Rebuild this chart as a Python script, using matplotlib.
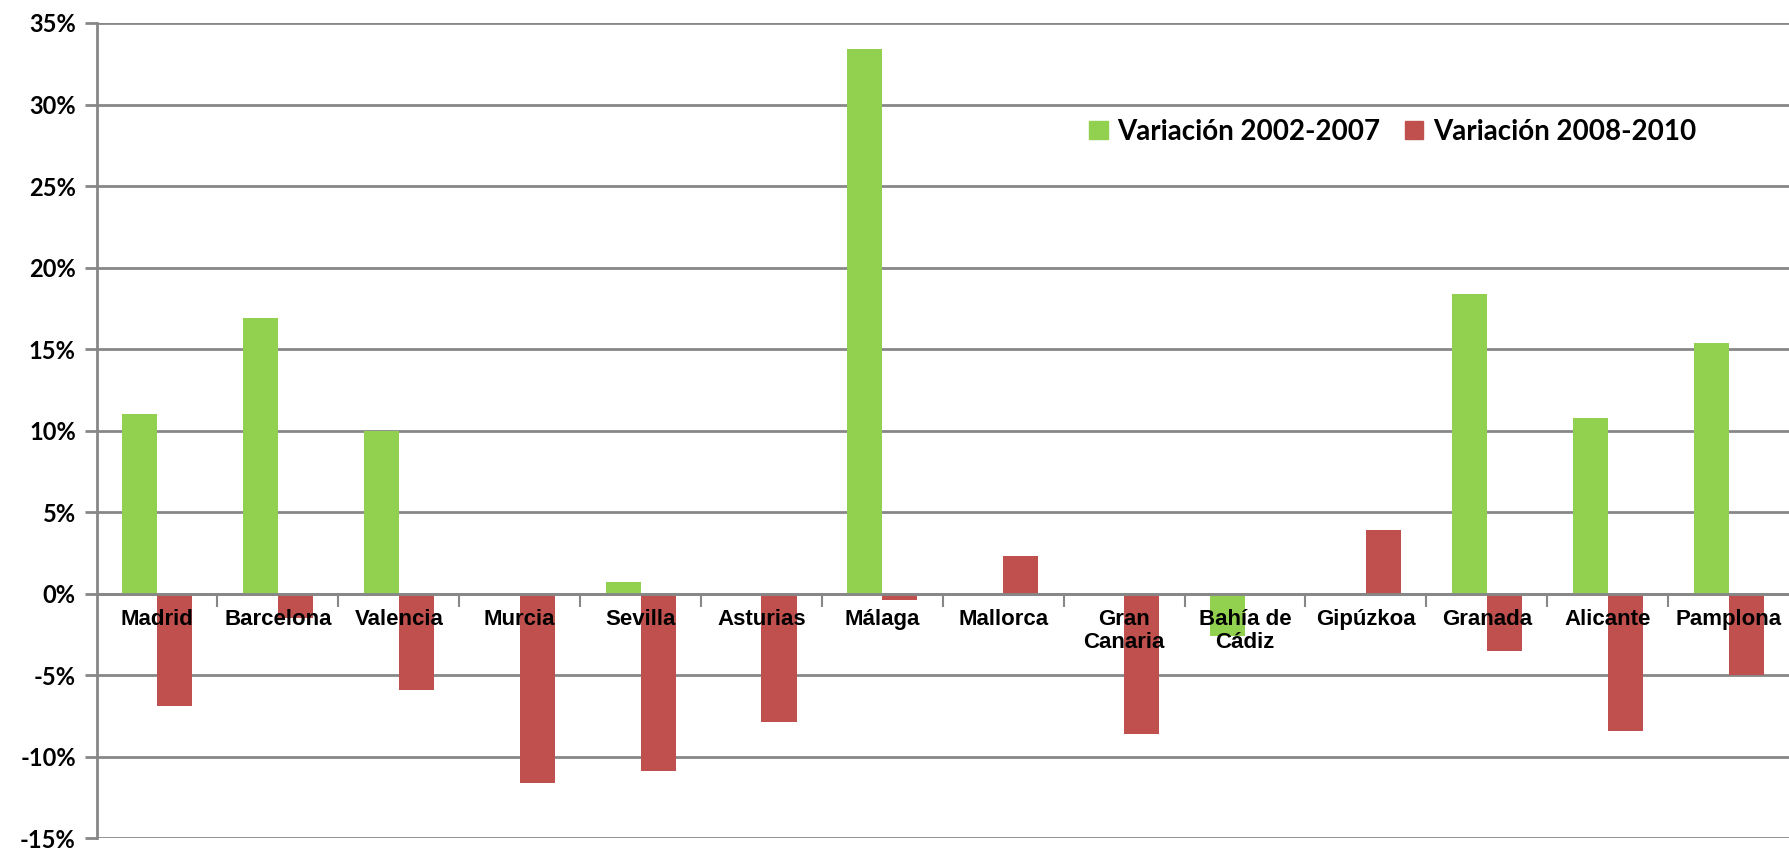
import matplotlib
matplotlib.use('Agg')
import matplotlib.pyplot as plt
from matplotlib.patches import Patch

ciudades = ["Madrid", "Barcelona", "Valencia", "Murcia", "Sevilla", "Asturias",
            "Málaga", "Mallorca", "Gran\nCanaria", "Bahía de\nCádiz", "Gipúzkoa",
            "Granada", "Alicante", "Pamplona"]
var_2002_2007 = [11.0, 16.9, 10.0, 0.0, 0.7, 0.0, 33.4, 0.0, 0.0, -2.6, 0.0, 18.4, 10.8, 15.4]
var_2008_2010 = [-6.9, -1.5, -5.9, -11.6, -10.9, -7.9, -0.4, 2.3, -8.6, 0.0, 3.9, -3.5, -8.4, -5.0]
series_names = ["Variación 2002-2007", "Variación 2008-2010"]
y_ticks = [-15, -10, -5, 0, 5, 10, 15, 20, 25, 30, 35]

verde = '#92D050'
rojo = '#C0504D'
gris = '#878787'

fig = plt.figure(figsize=(17.89, 8.51), dpi=100)
ax = fig.add_axes([0.054, 0.015, 0.946, 0.958])

x = list(range(len(ciudades)))
w = 0.29
ax.bar([i - w / 2 for i in x], var_2002_2007, width=w, color=verde, zorder=2)
ax.bar([i + w / 2 for i in x], var_2008_2010, width=w, color=rojo, zorder=2)

ax.set_xlim(-0.5, len(ciudades) - 0.5)
ax.set_ylim(-15, 35)
ax.set_yticks(y_ticks)
ax.set_yticklabels([f"{v}%" for v in y_ticks], fontfamily='Lato', fontweight='bold', fontsize=17)
ax.yaxis.grid(True, color=gris, linewidth=2)
ax.set_axisbelow(True)
ax.tick_params(axis='y', length=9, width=2, color=gris, pad=6)

# category boundary ticks on the zero line
ax.spines['bottom'].set_position(('data', 0))
ax.spines['bottom'].set_color(gris)
ax.spines['bottom'].set_linewidth(2)
ax.set_xticks([i + 0.5 for i in x[:-1]])
ax.set_xticklabels([])
ax.tick_params(axis='x', length=9, width=1.5, color=gris, direction='out')
ax.spines['left'].set_color(gris)
ax.spines['left'].set_linewidth(2)
ax.spines['top'].set_visible(False)
ax.spines['right'].set_visible(False)

for i, c in enumerate(ciudades):
    ax.annotate(c, (i, 0), xytext=(0, -11), textcoords='offset points',
                ha='center', va='top', fontsize=16, fontfamily='Liberation Sans',
                fontweight='bold', linespacing=1.15, zorder=5)

handles = [Patch(color=verde), Patch(color=rojo)]
fig.legend(handles, series_names, loc='center left', bbox_to_anchor=(0.595, 0.845),
           ncol=2, frameon=False, prop={'family': 'Lato', 'weight': 'bold', 'size': 20},
           handlelength=0.65, handleheight=0.65, handletextpad=0.35, columnspacing=0.9)

fig.savefig('out.png', dpi=100)
